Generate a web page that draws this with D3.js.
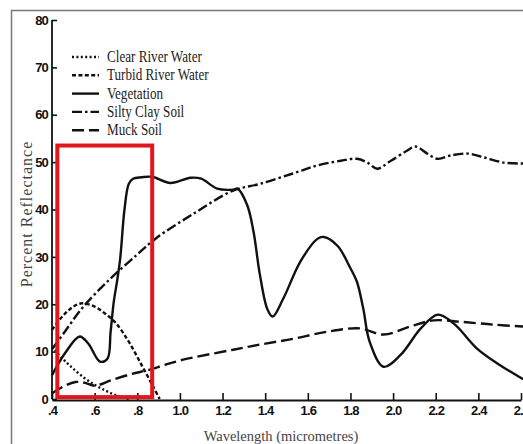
<!DOCTYPE html>
<html>
<head>
<meta charset="utf-8">
<script src="https://cdn.jsdelivr.net/npm/d3@7"></script>
<style>
  body { margin: 0; background: #fff; }
  svg { display: block; }
</style>
</head>
<body>
<div id="chart"></div>
<script>
// spectral reflectance curves
var seriesNames = ['Clear River Water', 'Turbid River Water', 'Vegetation', 'Silty Clay Soil', 'Muck Soil'];

var clearX = [0.40, 0.45, 0.49, 0.55, 0.60, 0.65, 0.70, 0.76];
var clearY = [11, 8.5, 6.8, 4.5, 3, 1.8, 0.8, 0];

var turbidX = [0.40, 0.45, 0.50, 0.54, 0.60, 0.65, 0.70, 0.76, 0.82, 0.87, 0.905];
var turbidY = [14.6, 17.5, 19.5, 20.2, 19.5, 18, 16, 12.1, 7.2, 3, 0];

var vegX = [0.40, 0.46, 0.53, 0.57, 0.625, 0.66, 0.675, 0.69, 0.705, 0.72, 0.74, 0.76, 0.78, 0.82, 0.87,
  0.955, 1.05, 1.10, 1.175, 1.25, 1.27, 1.315, 1.345, 1.375, 1.41, 1.435, 1.485, 1.565, 1.645, 1.675,
  1.74, 1.80, 1.83, 1.86, 1.89, 1.955, 2.035, 2.13, 2.21, 2.285, 2.395, 2.50, 2.61];
var vegY = [5, 9.6, 13.2, 11.7, 7.9, 8.5, 14.2, 20.6, 24.8, 29.7, 40, 45.4, 46.5, 46.8, 46.9,
  45.6, 46.7, 46.5, 44.4, 44.2, 44.4, 41, 35.4, 26.3, 19, 17.4, 21.2, 29, 33.8, 34.2,
  32.3, 27.6, 24.8, 19.1, 12.1, 6.8, 9.3, 14.9, 17.8, 15.9, 10.6, 7.2, 4.2];

var siltyX = [0.40, 0.46, 0.54, 0.66, 0.80, 0.89, 1.06, 1.25, 1.375, 1.53, 1.645, 1.755, 1.83, 1.88,
  1.925, 1.99, 2.065, 2.105, 2.16, 2.21, 2.27, 2.35, 2.425, 2.52, 2.61];
var siltyY = [10.5, 14.2, 19.1, 24.8, 30.5, 34, 39, 44, 45.4, 47.6, 49.3, 50.3, 50.7, 49.9,
  48.6, 50.3, 52.4, 53.3, 51.8, 50.7, 51.4, 51.8, 51, 49.9, 49.7];

var muckX = [0.40, 0.46, 0.51, 0.555, 0.60, 0.68, 0.775, 0.85, 0.93, 1.015, 1.25, 1.377, 1.53, 1.69,
  1.845, 1.955, 2.08, 2.19, 2.315, 2.47, 2.61];
var muckY = [1.2, 2.8, 3.6, 3.4, 2.8, 4, 5.3, 6.1, 7.2, 8.3, 10.4, 11.5, 12.7, 14.2,
  14.9, 13.6, 15.3, 16.6, 16.3, 15.7, 15.3];

var xTickValues = [0.4, 0.6, 0.8, 1.0, 1.2, 1.4, 1.6, 1.8, 2.0, 2.2, 2.4, 2.6];
var xTickLabels = ['.4', '.6', '.8', '1.0', '1.2', '1.4', '1.6', '1.8', '2.0', '2.2', '2.4', '2.6'];
var yTickValues = [0, 10, 20, 30, 40, 50, 60, 70, 80];

// highlighted box (data units)
var boxX = [0.425, 0.87];
var boxY = [0.4, 53.5];

var width = 523, height = 444;
var dashes = ['2,2.4', '4,2.4', null, '10,3,2.5,3', '12,5'];

var svg = d3.select('#chart').append('svg')
  .attr('width', width)
  .attr('height', height);

// grey frame
svg.append('path')
  .attr('d', 'M11.5,' + height + 'V10.5H' + width)
  .attr('fill', 'none')
  .attr('stroke', '#777')
  .attr('stroke-width', 1.5);

var x = d3.scaleLinear().domain([0.4, 2.6]).range([52, 521]);
var y = d3.scaleLinear().domain([0, 80]).range([399, 20]);

var series = [
  { xs: clearX, ys: clearY },
  { xs: turbidX, ys: turbidY },
  { xs: vegX, ys: vegY },
  { xs: siltyX, ys: siltyY },
  { xs: muckX, ys: muckY }
];

var line = d3.line()
  .x((d) => { return x(d[0]); })
  .y((d) => { return y(d[1]); })
  .curve(d3.curveCatmullRom.alpha(0.5));

series.forEach((s, i) => {
  var pts = s.xs.map((v, j) => { return [v, s.ys[j]]; });
  svg.append('path')
    .datum(pts)
    .attr('d', line)
    .attr('fill', 'none')
    .attr('stroke', '#111')
    .attr('stroke-width', 2.4)
    .attr('stroke-dasharray', dashes[i]);
});

// axes, ticks pointing inward
var xAxis = d3.axisBottom(x)
  .tickValues(xTickValues)
  .tickFormat((d, i) => { return xTickLabels[i]; })
  .tickSizeInner(-7)
  .tickSizeOuter(0)
  .tickPadding(6);

var yAxis = d3.axisLeft(y)
  .tickValues(yTickValues)
  .tickFormat(d3.format('d'))
  .tickSizeInner(-5)
  .tickSizeOuter(0)
  .tickPadding(4);

var gx = svg.append('g').attr('transform', 'translate(0,400)').call(xAxis);
var gy = svg.append('g').attr('transform', 'translate(52,0)').call(yAxis);

[gx, gy].forEach((g) => {
  g.select('.domain').attr('stroke', '#111').attr('stroke-width', 1.8);
  g.selectAll('.tick line').attr('stroke', '#111').attr('stroke-width', 1.6);
  g.selectAll('.tick text')
    .attr('fill', '#111')
    .style('font-family', '"Liberation Sans", Arial, sans-serif')
    .style('font-weight', 'bold')
    .style('font-size', '13px')
    .style('letter-spacing', '-0.8px');
});
gy.select('.domain').attr('d', 'M0,' + y(0) + 'V' + y(80) + '');

// axis titles
svg.append('text')
  .attr('x', 281)
  .attr('y', 441)
  .attr('text-anchor', 'middle')
  .attr('fill', '#444')
  .style('font-family', '"Liberation Serif", serif')
  .style('font-size', '14.5px')
  .text('Wavelength (micrometres)');

svg.append('text')
  .attr('transform', 'translate(32,214) rotate(-90)')
  .attr('text-anchor', 'middle')
  .attr('fill', '#444')
  .style('font-family', '"Liberation Serif", serif')
  .style('font-size', '16px')
  .style('letter-spacing', '1px')
  .text('Percent Reflectance');

// legend
var legend = svg.append('g').attr('transform', 'translate(72,57)');
seriesNames.forEach((name, i) => {
  var row = legend.append('g').attr('transform', 'translate(0,' + (i * 18.3) + ')');
  row.append('line')
    .attr('x1', 0).attr('x2', 27)
    .attr('stroke', '#111')
    .attr('stroke-width', 2.4)
    .attr('stroke-dasharray', dashes[i]);
  row.append('text')
    .attr('transform', 'translate(35,5) scale(0.82,1)')
    .attr('fill', '#222')
    .style('font-family', '"Liberation Serif", serif')
    .style('font-size', '16px')
    .text(name);
});

// red highlight box
svg.append('rect')
  .attr('x', x(boxX[0]))
  .attr('y', y(boxY[1]))
  .attr('width', x(boxX[1]) - x(boxX[0]))
  .attr('height', y(boxY[0]) - y(boxY[1]))
  .attr('fill', 'none')
  .attr('stroke', '#e3151d')
  .attr('stroke-width', 4);
</script>
</body>
</html>
